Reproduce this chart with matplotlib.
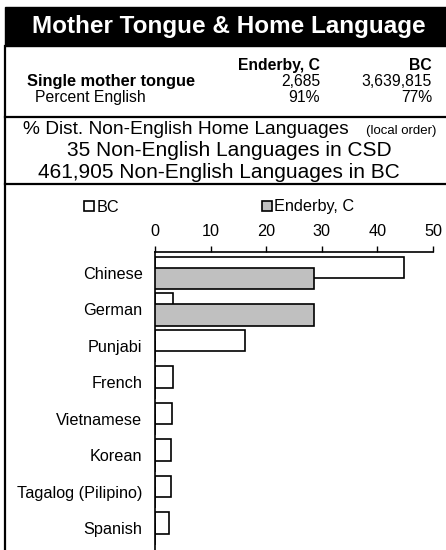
import matplotlib
matplotlib.use("Agg")
import matplotlib.pyplot as plt
from matplotlib.patches import Rectangle, Patch
from matplotlib.lines import Line2D

plt.rcParams["font.family"] = ["Liberation Sans", "DejaVu Sans"]

# data
languages = ["Chinese", "German", "Punjabi", "French", "Vietnamese",
             "Korean", "Tagalog (Pilipino)", "Spanish"]
bc_pct = [44.8, 3.2, 16.1, 3.2, 3.1, 2.9, 2.8, 2.6]
enderby_pct = [28.6, 28.6, 0, 0, 0, 0, 0, 0]
series_names = ["BC", "Enderby, C"]

header_cols = ["Enderby, C", "BC"]
mother_tongue = ["2,685", "3,639,815"]
pct_english = ["91%", "77%"]
n_lang_csd = 35
n_lang_bc = "461,905"

W, H = 446, 550
fig = plt.figure(figsize=(W / 100, H / 100), dpi=100)


def fx(x):
    return x / W


def fy(y):
    return 1 - y / H


# title band
fig.patches.append(Rectangle((fx(5), fy(46)), fx(446) - fx(5), fy(7) - fy(46),
                             transform=fig.transFigure, color="black", zorder=0))
fig.text(fx(229), fy(27), "Mother Tongue & Home Language", color="white",
         fontsize=17.5, fontweight="bold", ha="center", va="center")

# box lines
for (x0, y0, x1, y1) in [(5, 46, 5, 550), (5, 117, 446, 117), (5, 184, 446, 184)]:
    fig.lines.append(Line2D([fx(x0), fx(x1)], [fy(y0), fy(y1)], color="black",
                            lw=1.6, transform=fig.transFigure))

# summary rows (baseline aligned)
fs = 11.3
r1, r2, r3 = 70, 86, 102
fig.text(fx(320), fy(r1), header_cols[0], fontsize=fs, fontweight="bold", ha="right", va="baseline")
fig.text(fx(432), fy(r1), header_cols[1], fontsize=fs, fontweight="bold", ha="right", va="baseline")
fig.text(fx(27), fy(r2), "Single mother tongue", fontsize=fs + 0.5, fontweight="bold", va="baseline")
fig.text(fx(320), fy(r2), mother_tongue[0], fontsize=fs, ha="right", va="baseline")
fig.text(fx(432), fy(r2), mother_tongue[1], fontsize=fs, ha="right", va="baseline")
fig.text(fx(35), fy(r3), "Percent English", fontsize=fs, va="baseline")
fig.text(fx(320), fy(r3), pct_english[0], fontsize=fs, ha="right", va="baseline")
fig.text(fx(432), fy(r3), pct_english[1], fontsize=fs, ha="right", va="baseline")

fig.text(fx(23), fy(134), "% Dist. Non-English Home Languages", fontsize=13.8, va="baseline")
fig.text(fx(436), fy(134), "(local order)", fontsize=9.5, ha="right", va="baseline")
fig.text(fx(229), fy(150), f"{n_lang_csd} Non-English Languages in CSD", fontsize=15, ha="center", va="center")
fig.text(fx(219), fy(172), f"{n_lang_bc} Non-English Languages in BC", fontsize=15, ha="center", va="center")

# bar chart
ax = fig.add_axes([fx(155), 0, fx(433) - fx(155), fy(252)])
pos = list(range(len(languages)))
h = 0.59
ax.barh([p - 0.15 for p in pos], bc_pct, height=h, color="white", edgecolor="black", lw=1.2, zorder=2)
ax.barh([p + 0.15 for p in pos], enderby_pct, height=h, color="#c0c0c0", edgecolor="black", lw=1.2, zorder=3)
ax.set_xlim(0, 50)
ax.set_ylim(7.59, -0.575)
ax.set_yticks(pos)
ax.set_yticklabels(languages, fontsize=11.7)
ax.tick_params(axis="y", length=0, pad=9)
ax.xaxis.tick_top()
ax.set_xticks([0, 10, 20, 30, 40, 50])
ax.tick_params(axis="x", direction="out", length=4.5, width=1, labelsize=11.7, pad=5)
for s in ["right", "bottom"]:
    ax.spines[s].set_visible(False)
for s in ["left", "top"]:
    ax.spines[s].set_linewidth(1.2)

handles = [Patch(facecolor="white", edgecolor="black", lw=1.2),
           Patch(facecolor="#c0c0c0", edgecolor="black", lw=1.2)]
fig.legend(handles, series_names, loc="center left", bbox_to_anchor=(fx(84), fy(207)),
           ncol=2, frameon=False, fontsize=11.7, handlelength=0.6, handleheight=0.6,
           handletextpad=0.15, columnspacing=8.8, borderpad=0, borderaxespad=0)

fig.savefig("out.png", dpi=100)
